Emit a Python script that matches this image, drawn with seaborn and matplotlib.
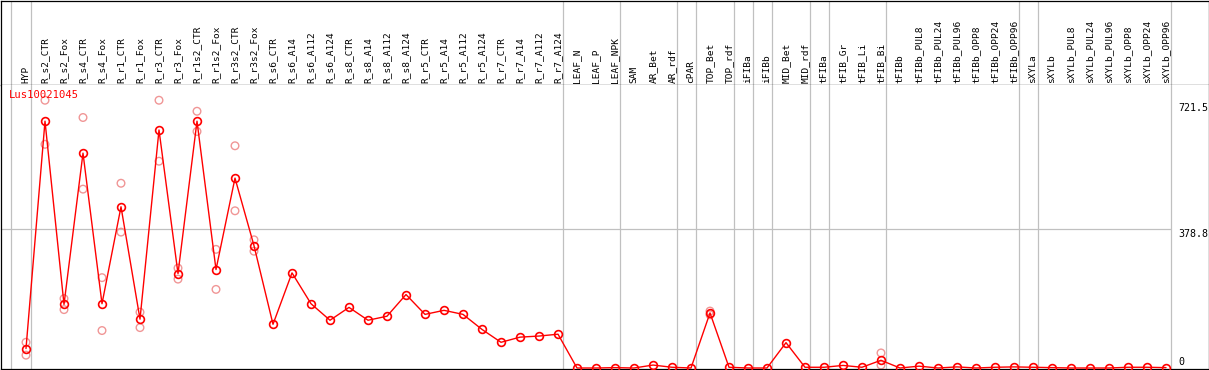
import numpy as np
import pandas as pd
import matplotlib
matplotlib.use("Agg")
import matplotlib.pyplot as plt
import seaborn as sns

samples = ["HYP", "R_s2_CTR", "R_s2_Fox", "R_s4_CTR", "R_s4_Fox", "R_r1_CTR", "R_r1_Fox",
           "R_r3_CTR", "R_r3_Fox", "R_r1s2_CTR", "R_r1s2_Fox", "R_r3s2_CTR", "R_r3s2_Fox",
           "R_s6_CTR", "R_s6_A14", "R_s6_A112", "R_s6_A124", "R_s8_CTR", "R_s8_A14", "R_s8_A112",
           "R_s8_A124", "R_r5_CTR", "R_r5_A14", "R_r5_A112", "R_r5_A124", "R_r7_CTR", "R_r7_A14",
           "R_r7_A112", "R_r7_A124", "LEAF_N", "LEAF_P", "LEAF_NPK", "SAM", "AR_Bet", "AR_rdf",
           "cPAR", "TOP_Bet", "TOP_rdf", "iFIBa", "iFIBb", "MID_Bet", "MID_rdf", "tFIBa",
           "tFIB_Gr", "tFIB_Li", "tFIB_Bi", "tFIBb", "tFIBb_PUL8", "tFIBb_PUL24", "tFIBb_PUL96",
           "tFIBb_OPP8", "tFIBb_OPP24", "tFIBb_OPP96", "sXYLa", "sXYLb", "sXYLb_PUL8",
           "sXYLb_PUL24", "sXYLb_PUL96", "sXYLb_OPP8", "sXYLb_OPP24", "sXYLb_OPP96"]

mean_expr = [53, 672, 173, 585, 175, 439, 133, 648, 257, 672, 268, 517, 333,
             119, 259, 175, 130, 165, 130, 141, 200, 146, 157, 146, 105, 70, 84, 87, 92,
             0, 0, 1, 0, 8, 2, 0, 150, 2, 0, 0, 69, 2, 2, 7, 2, 21,
             0, 5, 0, 3, 0, 2, 3, 2, 1, 0, 0, 0, 2, 2, 1]

nan = np.nan
rep_a = [70, 729, 189, 682, 246, 503, 152, 729, 272, 699, 323, 605, 349,
         nan, nan, nan, nan, nan, nan, nan, nan, nan, nan, nan, nan, nan, nan, nan, nan,
         nan, nan, nan, nan, nan, nan, nan, 155, nan, nan, nan, nan, nan, nan, nan, nan, 41,
         nan, nan, nan, nan, nan, nan, nan, nan, nan, nan, nan, nan, nan, nan, nan]
rep_b = [35, 609, 159, 487, 102, 370, 110, 563, 242, 644, 214, 428, 318,
         nan, nan, nan, nan, nan, nan, nan, nan, nan, nan, nan, nan, nan, nan, nan, nan,
         nan, nan, nan, nan, nan, nan, nan, 145, nan, nan, nan, nan, nan, nan, nan, nan, 8,
         nan, nan, nan, nan, nan, nan, nan, nan, nan, nan, nan, nan, nan, nan, nan]

# index of last sample in each group (separators drawn after it)
group_ends = [0, 28, 31, 34, 35, 37, 38, 39, 41, 42, 45, 52, 53, 60]
ytick_vals = [721.5, 378.8, 0]
ytick_labels = ["721.5", "378.8", "0"]
gene = "Lus10021045"

# ---------------------------------------------------------------
sns.set_style("white")
plt.rcParams["font.family"] = ["DejaVu Sans Mono", "DejaVu Sans"]

W, H = 1209, 370
fig = plt.figure(figsize=(W / 100, H / 100), dpi=100)
fig.patch.set_facecolor("white")

def px2x(px):
    return (px - 26.0) / 19.0

pxu = 0.3673  # pixels per unit
def px2v(py):
    return (368.0 - py) / pxu

xl = (px2x(0.5), px2x(1208.5))
ax_h = fig.add_axes([0.5 / W, (H - 85) / H, 1208 / W, 84.5 / H])
ax = fig.add_axes([0.5 / W, 1.0 / H, 1208 / W, 284 / H])

grid_c = "#c0c0c0"
seps = [-0.8] + [g + 0.24 for g in group_ends]

for a in (ax, ax_h):
    a.set_xlim(*xl)
    a.set_xticks([])
    a.set_yticks([])
    for s in a.spines.values():
        s.set_color("black")
        s.set_linewidth(0.9)
    for sx in seps:
        a.axvline(sx, color=grid_c, lw=0.9, zorder=1)

ax.spines["top"].set_visible(False)
ax.set_ylim(px2v(369), px2v(85))
ax_h.set_ylim(0, 1)

ax.hlines(378.8, xl[0], seps[-1], color=grid_c, lw=0.9, zorder=1)

pos = np.arange(len(samples))
df = pd.DataFrame({"pos": pos, "sample": samples, "mean": mean_expr})
reps = pd.DataFrame({"pos": np.concatenate([pos, pos]),
                     "value": np.concatenate([rep_a, rep_b])}).dropna()

pale = "#f09696"
sns.scatterplot(data=reps, x="pos", y="value", ax=ax, marker="o", s=30,
                facecolors="none", edgecolor=pale, linewidth=1.0, zorder=2, legend=False)
sns.lineplot(data=df, x="pos", y="mean", ax=ax, color="red", lw=1.0, estimator=None,
             sort=False, marker="o", markersize=5.6, markerfacecolor="none",
             markeredgecolor="red", markeredgewidth=1.2, zorder=3)
ax.set_xlabel("")
ax.set_ylabel("")
ax.set_xlim(*xl)
ax.set_ylim(px2v(369), px2v(85))

# header labels
for i, lab in enumerate(samples):
    ax_h.text(i, 2.0 / 84.5, lab, rotation=90, ha="center", va="bottom",
              fontsize=6.8, color="black")

# right tick labels
for v, t in zip(ytick_vals, ytick_labels):
    ax.text(px2x(1178), v + (0 if v > 0 else 1.5), t, ha="left",
            va="top" if v > 0 else "bottom", fontsize=7.2, color="black")

ax.text(px2x(9), px2v(90), gene, ha="left", va="top", fontsize=7.6, color="red")

fig.savefig("out.png", dpi=100, facecolor="white")
